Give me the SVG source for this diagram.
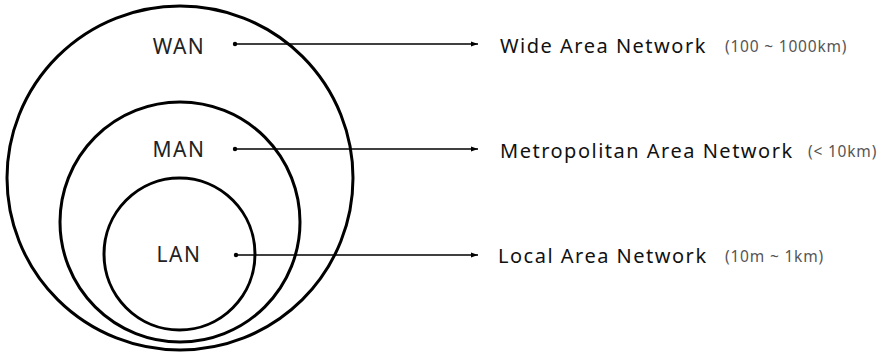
<svg xmlns="http://www.w3.org/2000/svg" width="886" height="353" viewBox="0 0 886 353">
<style>
.ring{fill:none;stroke:#000;stroke-width:3}
.lbl{font-family:"Noto Sans","Liberation Sans",sans-serif;font-size:21px;letter-spacing:1.5px;fill:#222}
.name{font-family:"Noto Sans","Liberation Sans",sans-serif;font-size:20px;letter-spacing:1.5px;fill:#111}
.rng{font-family:"Noto Sans","Liberation Sans",sans-serif;font-size:15.5px;letter-spacing:0.8px;fill:#555}
.conn{stroke:#000;stroke-width:1.3;fill:none}
</style>
<defs>
<marker id="arr" markerWidth="8" markerHeight="6" refX="7" refY="3" orient="auto" markerUnits="userSpaceOnUse">
<path d="M0,0.5 L7,3 L0,5.5 Z" fill="#000"/>
</marker>
<marker id="dot" markerWidth="6" markerHeight="6" refX="3" refY="3" markerUnits="userSpaceOnUse">
<circle cx="3" cy="3" r="2.2" fill="#000"/>
</marker>
</defs>
<rect width="886" height="353" fill="#fff"/>
<g id="wan">
<ellipse class="ring" cx="180" cy="178" rx="173" ry="172"/>
<text class="lbl" x="179" y="54" text-anchor="middle">WAN</text>
</g>
<g id="man">
<ellipse class="ring" cx="180" cy="222" rx="120" ry="120"/>
<text class="lbl" x="179" y="157" text-anchor="middle">MAN</text>
</g>
<g id="lan">
<ellipse class="ring" cx="179.5" cy="254" rx="75.5" ry="76"/>
<text class="lbl" x="179" y="262" text-anchor="middle">LAN</text>
</g>
<g id="connectors">
<line class="conn" x1="235" y1="44" x2="478" y2="44" marker-start="url(#dot)" marker-end="url(#arr)"/>
<line class="conn" x1="235" y1="149" x2="478" y2="149" marker-start="url(#dot)" marker-end="url(#arr)"/>
<line class="conn" x1="236" y1="255" x2="478" y2="255" marker-start="url(#dot)" marker-end="url(#arr)"/>
</g>
<g id="wan-label">
<text class="name" x="500" y="53">Wide Area Network</text>
<text class="rng" x="725" y="52">(100 ~ 1000km)</text>
</g>
<g id="man-label">
<text class="name" x="500" y="158">Metropolitan Area Network</text>
<text class="rng" x="808" y="157">(&lt; 10km)</text>
</g>
<g id="lan-label">
<text class="name" x="498" y="263">Local Area Network</text>
<text class="rng" x="725" y="262">(10m ~ 1km)</text>
</g>
</svg>
